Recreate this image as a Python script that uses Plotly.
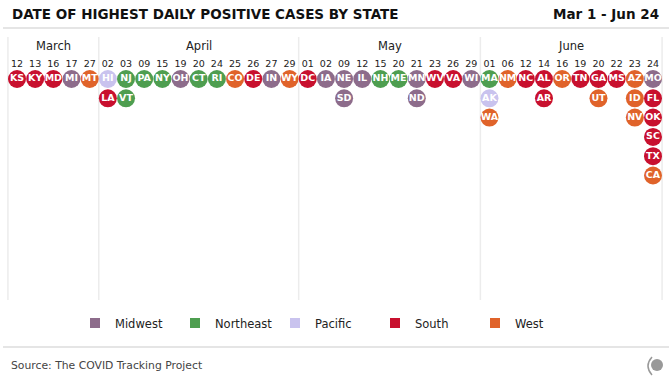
import plotly.graph_objects as go

# ---- data ----
months = ["March", "April", "May", "June"]
month_days = [
    ["12", "13", "16", "17", "27"],
    ["02", "03", "09", "15", "19", "20", "24", "25", "26", "27", "29"],
    ["01", "02", "09", "12", "15", "20", "21", "23", "26", "29"],
    ["01", "06", "12", "14", "16", "19", "20", "22", "23", "24"],
]
# states per date column (top to bottom)
column_states = [
    ["KS"], ["KY"], ["MD"], ["MI"], ["MT"],
    ["HI", "LA"], ["NJ", "VT"], ["PA"], ["NY"], ["OH"], ["CT"], ["RI"], ["CO"], ["DE"], ["IN"], ["WY"],
    ["DC"], ["IA"], ["NE", "SD"], ["IL"], ["NH"], ["ME"], ["MN", "ND"], ["WV"], ["VA"], ["WI"],
    ["MA", "AK", "WA"], ["NM"], ["NC"], ["AL", "AR"], ["OR"], ["TN"], ["GA", "UT"], ["MS"],
    ["AZ", "ID", "NV"], ["MO", "FL", "OK", "SC", "TX", "CA"],
]
regions = ["Midwest", "Northeast", "Pacific", "South", "West"]
region_colors = ["#8d6c8b", "#4e9e50", "#c9c3ee", "#c8102e", "#e0632a"]
state_region = {
    "KS": "South", "KY": "South", "MD": "South", "MI": "Midwest", "MT": "West",
    "HI": "Pacific", "LA": "South", "NJ": "Northeast", "VT": "Northeast", "PA": "Northeast",
    "NY": "Northeast", "OH": "Midwest", "CT": "Northeast", "RI": "Northeast", "CO": "West",
    "DE": "South", "IN": "Midwest", "WY": "West", "DC": "South", "IA": "Midwest",
    "NE": "Midwest", "SD": "Midwest", "IL": "Midwest", "NH": "Northeast", "ME": "Northeast",
    "MN": "Midwest", "ND": "Midwest", "WV": "South", "VA": "South", "WI": "Midwest",
    "MA": "Northeast", "AK": "Pacific", "WA": "West", "NM": "West", "NC": "South",
    "AL": "South", "AR": "South", "OR": "West", "TN": "South", "GA": "South", "UT": "West",
    "MS": "South", "AZ": "West", "ID": "West", "NV": "West", "MO": "Midwest", "FL": "South",
    "OK": "South", "SC": "South", "TX": "South", "CA": "West",
}

day_labels = [d for m in month_days for d in m]
n_cols = len(day_labels)

# ---- figure ----
W, H = 672, 384
top, bottom = 70, 300
ph = bottom - top


def py(pix):  # pixel y -> paper y
    return (bottom - pix) / ph


def px(pix):
    return pix / W


fig = go.Figure()

for reg, col in zip(regions, region_colors):
    xs, ys, ts = [], [], []
    for ci, states in enumerate(column_states):
        for ri, s in enumerate(states):
            if state_region[s] == reg:
                xs.append(ci)
                ys.append(ri)
                ts.append(s)
    fig.add_trace(go.Scatter(
        x=xs, y=ys, text=ts, mode="markers+text",
        marker=dict(size=18, color=col, line=dict(width=0)),
        textposition="middle center",
        textfont=dict(family="DejaVu Sans", size=9.5, color="white", weight="bold"),
        showlegend=False, hoverinfo="text", cliponaxis=False,
    ))
    fig.add_trace(go.Scatter(
        x=[None], y=[None], mode="markers", name=reg,
        marker=dict(size=10, color=col, symbol="square"),
        showlegend=True,
    ))

unit = (653 - 17) / (n_cols - 1)
r0 = -17 / unit
r1 = r0 + W / unit
row_unit = 19.3
y_top = -9 / row_unit
y_bot = y_top + ph / row_unit

fig.update_xaxes(
    range=[r0, r1], side="top", tickmode="array",
    tickvals=list(range(n_cols)), ticktext=day_labels,
    tickfont=dict(family="DejaVu Sans", size=9.5, color="#222"),
    showgrid=False, zeroline=False, showline=False, ticks="",
)
fig.update_yaxes(range=[y_bot, y_top], visible=False, showgrid=False, zeroline=False)

shapes = []
bounds = [-0.5]
acc = 0
for m in month_days:
    acc += len(m)
    bounds.append(acc - 0.5)
for b in bounds:
    shapes.append(dict(type="line", xref="x", yref="paper", x0=b, x1=b,
                       y0=0, y1=py(37), line=dict(color="#ececec", width=1.5), layer="below"))
shapes.append(dict(type="line", xref="paper", yref="paper", x0=px(3), x1=px(669),
                   y0=py(28), y1=py(28), line=dict(color="#dcdcdc", width=1.5)))
shapes.append(dict(type="line", xref="paper", yref="paper", x0=px(3), x1=px(669),
                   y0=py(347), y1=py(347), line=dict(color="#dcdcdc", width=1.5)))
# logo
shapes.append(dict(type="circle", xref="paper", yref="paper",
                   x0=px(651), x1=px(663), y0=py(371), y1=py(359),
                   fillcolor="#999999", line=dict(width=0)))
shapes.append(dict(type="path", xref="paper", yref="paper",
                   path=f"M {px(652)} {py(357)} Q {px(644)} {py(366)} {px(652)} {py(375)}",
                   line=dict(color="#999999", width=1.5)))
fig.update_layout(shapes=shapes)

annotations = []
acc = 0
for m, days in zip(months, month_days):
    center = acc + (len(days) - 1) / 2
    annotations.append(dict(x=center, y=py(46), xref="x", yref="paper", text=m,
                            showarrow=False, font=dict(family="DejaVu Sans", size=11.5, color="#222"),
                            xanchor="center", yanchor="middle"))
    acc += len(days)
annotations.append(dict(x=px(10), y=py(14), xref="paper", yref="paper",
                        text="<b>DATE OF HIGHEST DAILY POSITIVE CASES BY STATE</b>",
                        showarrow=False, xanchor="left", yanchor="middle",
                        font=dict(family="DejaVu Sans", size=13.5, color="#111")))
annotations.append(dict(x=px(661), y=py(14), xref="paper", yref="paper",
                        text="<b>Mar 1 - Jun 24</b>",
                        showarrow=False, xanchor="right", yanchor="middle",
                        font=dict(family="DejaVu Sans", size=13.5, color="#111")))
annotations.append(dict(x=px(9), y=py(365), xref="paper", yref="paper",
                        text="Source: The COVID Tracking Project",
                        showarrow=False, xanchor="left", yanchor="middle",
                        font=dict(family="DejaVu Sans", size=10.8, color="#444")))
fig.update_layout(annotations=annotations)

fig.update_layout(
    width=W, height=H,
    margin=dict(l=0, r=0, t=top, b=H - bottom),
    plot_bgcolor="white", paper_bgcolor="white",
    legend=dict(orientation="h", x=px(75), y=py(323), xanchor="left", yanchor="middle",
                entrywidth=55, entrywidthmode="pixels", itemwidth=30,
                font=dict(family="DejaVu Sans", size=11.5, color="#222"),
                bgcolor="rgba(0,0,0,0)"),
    font=dict(family="DejaVu Sans"),
)

fig.write_html("out.html", config={"displayModeBar": False},
               post_script="document.body.style.margin='0';")
